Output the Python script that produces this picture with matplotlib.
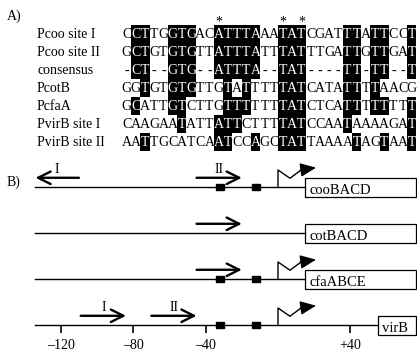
import matplotlib
matplotlib.use('Agg')
import matplotlib.pyplot as plt
from matplotlib.patches import Rectangle

plt.rcParams['font.family'] = ['Liberation Serif', 'DejaVu Serif']

# ---- A) alignment ----
names = ['Pcoo site I', 'Pcoo site II', 'consensus', 'PcotB', 'PcfaA',
         'PvirB site I', 'PvirB site II']
seqs = ['CCTTGGTGACATTTAAATATCGATTTATTCCT',
        'GCTGTGTGTTATTTATTTATTTGATTGTTGAT',
        '-CT--GTG--ATTTA--TAT----TT-TT--T',
        'GGTGTGTGTTGTATTTTTATCATATTTTAACG',
        'GCATTGTCTTGTTTTTTTATCTCATTTTTTTT',
        'CAAGAATATTATTCTTTTATCCAATAAAAGAT',
        'AATTGCATCAATCCAGCTATTAAAATAGTAAT']
consensus = seqs[2]
star_cols = [11, 18, 20]  # 1-based alignment positions

# ---- B) promoter maps ----
genes = ['cooBACD', 'cotBACD', 'cfaABCE', 'virB']
gene_start = [15, 15, 15, 55]
map_start = -134
tss = [0, None, 0, 0]
boxes = [[-32, -12], [], [-32, -12], [-32, -12]]
# (track, tail, head, label)
sites = [(0, -110, -134, 'I'), (0, -45, -20, 'II'),
         (1, -45, -20, ''), (2, -45, -20, ''),
         (3, -109, -84, 'I'), (3, -70, -45, 'II')]
ticks = [-120, -80, -40, 40]
tick_labels = ['\u2013120', '\u201380', '\u201340', '+40']

W, H = 417, 353
fig = plt.figure(figsize=(W / 100, H / 100), dpi=100)

cw, rh = 9.2, 18
ax = fig.add_axes([122 / W, 1 - (25 + 7 * rh) / H, 32 * cw / W, 7 * rh / H])
ax.set_xlim(0, 32)
ax.set_ylim(7, 0)
ax.axis('off')
for i, s in enumerate(seqs):
    for j, ch in enumerate(s):
        hit = ch != '-' and ch == consensus[j]
        if hit:
            ax.add_patch(Rectangle((j, i), 1, 1, color='k', lw=0))
        ax.text(j + 0.5, i + 0.55, ch, ha='center', va='center', fontsize=10,
                color='w' if hit else 'k')
    ax.text(-(122 - 37) / cw, i + 0.55, names[i], ha='left', va='center',
            fontsize=10, clip_on=False)
for c in star_cols:
    ax.text(c - 0.5, -0.15, '*', ha='center', va='center', fontsize=10,
            clip_on=False)

fig.text(7 / W, 1 - 16 / H, 'A)', ha='left', va='center', fontsize=10)
fig.text(7 / W, 1 - 182 / H, 'B)', ha='left', va='center', fontsize=10)

# promoter map axes
bx = fig.add_axes([0, 0, 1, 203 / H])
bx.set_xlim(-153.6, 76.8)
bx.set_ylim(3.609, -0.804)
for sp in ['top', 'left', 'right', 'bottom']:
    bx.spines[sp].set_visible(False)
bx.yaxis.set_visible(False)
bx.spines['bottom'].set_position(('data', 3))
bx.set_xticks(ticks)
bx.set_xticklabels(tick_labels, fontsize=10)
bx.tick_params(axis='x', direction='out', length=6, width=1.2, pad=4)
bx.patch.set_alpha(0)

for k, g in enumerate(genes):
    bx.plot([map_start, gene_start[k]], [k, k], color='k', lw=1.0)
    bx.add_patch(Rectangle((gene_start[k], k - 0.196), 61.5 - gene_start[k] + 15, 0.41,
                           fill=False, ec='k', lw=0.9))
    bx.text(gene_start[k] + 2.5, k + 0.08, g, ha='left', va='center',
            fontsize=10.5)
    for b in boxes[k]:
        bx.add_patch(Rectangle((b - 2.2, k - 0.065), 4.4, 0.13, color='k'))
    if tss[k] is not None:
        t = tss[k]
        bx.plot([t, t, t + 6.6, t + 12.8], [k, k - 0.37, k - 0.19, k - 0.37],
                color='k', lw=1.0)
        bx.annotate('', xy=(t + 21, k - 0.42), xytext=(t + 12.3, k - 0.37),
                    arrowprops=dict(arrowstyle='-|>,head_length=0.8,head_width=0.35',
                                    mutation_scale=12, lw=1.0, color='k',
                                    shrinkA=0, shrinkB=0))

for k, a, b, lab in sites:
    bx.annotate('', xy=(b, k - 0.2), xytext=(a, k - 0.2),
                arrowprops=dict(arrowstyle='->,head_length=0.9,head_width=0.45',
                                mutation_scale=10, lw=1.7, color='k',
                                shrinkA=0, shrinkB=0))
    if lab:
        bx.text((a + b) / 2, k - 0.38, lab, ha='center', va='center',
                fontsize=10)

fig.savefig('out.png', dpi=100)
